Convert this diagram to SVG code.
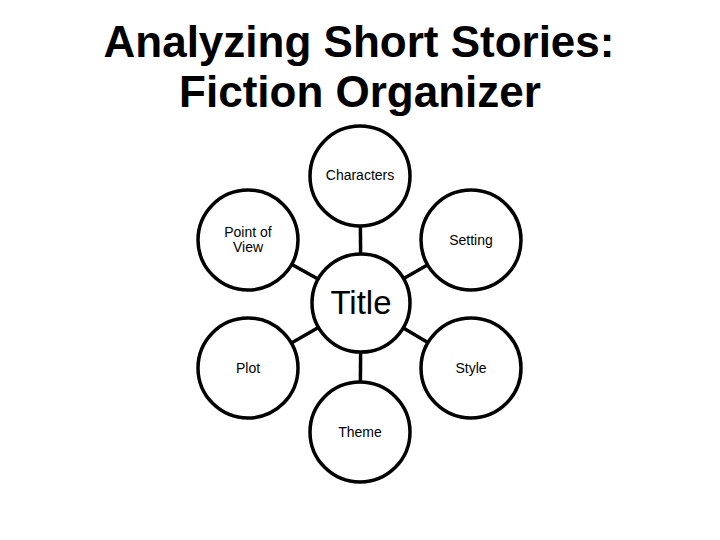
<svg xmlns="http://www.w3.org/2000/svg" width="720" height="540" viewBox="0 0 720 540">
<style>
.c{fill:#fff;stroke:#000;stroke-width:3.5}
.l{stroke:#000;stroke-width:3.5}
.t{font-family:"Liberation Sans",Arial,sans-serif;font-size:14px;text-anchor:middle;fill:#000}
.h{font-family:"Liberation Sans",Arial,sans-serif;font-size:44px;font-weight:bold;text-anchor:middle;fill:#000}
</style>
<rect width="720" height="540" fill="#fff"/>
<g id="heading">
<text class="h" x="359" y="57">Analyzing Short Stories:</text>
<text class="h" x="360" y="107">Fiction Organizer</text>
</g>
<g id="connectors">
<line class="l" x1="360" y1="176" x2="361" y2="303"/>
<line class="l" x1="361" y1="303" x2="360" y2="432"/>
<line class="l" x1="248" y1="240" x2="361" y2="303"/>
<line class="l" x1="471" y1="240" x2="361" y2="303"/>
<line class="l" x1="248" y1="368" x2="361" y2="303"/>
<line class="l" x1="471" y1="368" x2="361" y2="303"/>
</g>
<g id="characters"><circle class="c" cx="360" cy="176" r="50"/><text class="t" x="360" y="180">Characters</text></g>
<g id="pov"><circle class="c" cx="248" cy="240" r="50"/><text class="t" x="248" y="237">Point of</text><text class="t" x="248" y="252">View</text></g>
<g id="setting"><circle class="c" cx="471" cy="240" r="50"/><text class="t" x="471" y="245">Setting</text></g>
<g id="title"><circle class="c" cx="361" cy="303" r="49"/><text class="t" x="361" y="314" style="font-size:33px">Title</text></g>
<g id="plot"><circle class="c" cx="248" cy="368" r="50"/><text class="t" x="248" y="373">Plot</text></g>
<g id="style"><circle class="c" cx="471" cy="368" r="50"/><text class="t" x="471" y="373">Style</text></g>
<g id="theme"><circle class="c" cx="360" cy="432" r="50"/><text class="t" x="360" y="437">Theme</text></g>
</svg>
